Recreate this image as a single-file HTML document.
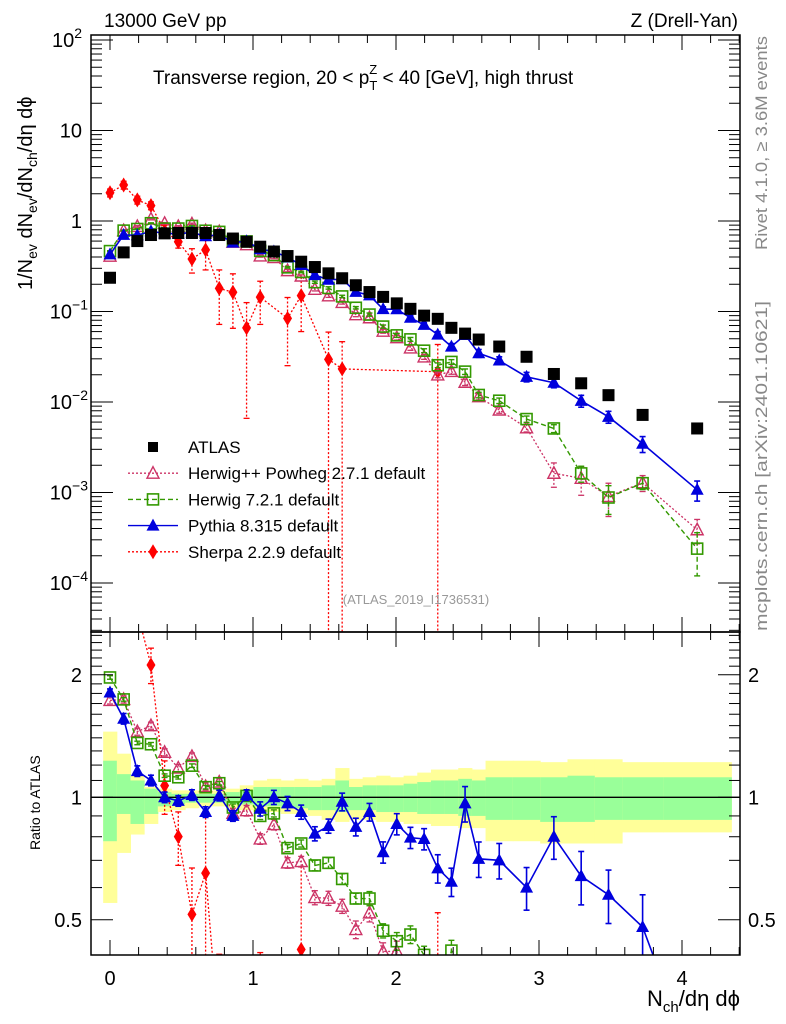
<!DOCTYPE html>
<html><head><meta charset="utf-8"><style>
html,body{margin:0;padding:0;background:#fff;overflow:hidden;width:786px;height:1024px;}
svg{display:block;font-family:"Liberation Sans",sans-serif;}
</style></head><body>
<svg id="chart" width="786" height="1024" viewBox="0 0 786 1024" xmlns="http://www.w3.org/2000/svg" overflow="hidden">
<rect x="0" y="0" width="786" height="1024" fill="#fff"/>
<g id="ratioBands"></g>
<g id="grid"></g>
<g id="series"></g>
<g id="axes"></g>
<text x="104" y="27" font-size="19">13000 GeV pp</text>
<text x="738" y="27" font-size="19" text-anchor="end">Z (Drell-Yan)</text>
<text x="153" y="84" font-size="19">Transverse region, 20 &lt; p<tspan font-size="13" dy="6">T</tspan><tspan font-size="13" dx="-8" dy="-16">Z</tspan><tspan dy="10"> &lt; 40 [GeV], high thrust</tspan></text>
<text transform="translate(32,290) rotate(-90)" font-size="20">1/N<tspan font-size="14" dy="5">ev</tspan><tspan dy="-5"> dN</tspan><tspan font-size="14" dy="5">ev</tspan><tspan dy="-5">/dN</tspan><tspan font-size="14" dy="5">ch</tspan><tspan dy="-5">/dη dϕ</tspan></text>
<text transform="translate(40,850) rotate(-90)" font-size="14">Ratio to ATLAS</text>
<text x="740" y="1006" font-size="22" text-anchor="end">N<tspan font-size="15" dy="6">ch</tspan><tspan dy="-6">/dη dϕ</tspan></text>
<text transform="translate(767,250) rotate(-90)" font-size="17" fill="#888" textLength="214" lengthAdjust="spacingAndGlyphs">Rivet 4.1.0, ≥ 3.6M events</text>
<text transform="translate(767,631) rotate(-90)" font-size="17" fill="#888" textLength="330" lengthAdjust="spacingAndGlyphs">mcplots.cern.ch [arXiv:2401.10621]</text>
<text x="416" y="604" font-size="13" fill="#999" text-anchor="middle">(ATLAS_2019_I1736531)</text>
<g id="legend"></g>
</svg>
<script>
// ---- data ----
const xCenters = [0,0.0955,0.191,0.2865,0.382,0.4775,0.573,0.6685,0.764,0.8595,0.955,1.0505,1.146,1.2415,1.337,1.4325,1.528,1.6235,1.719,1.8145,1.91,2.0055,2.101,2.1965,2.292,2.3875,2.483,2.5785,2.722,2.913,3.104,3.295,3.486,3.7245,4.106];
const binLo = [-0.0478,0.0478,0.1433,0.2388,0.3343,0.4298,0.5253,0.6208,0.7163,0.8118,0.9073,1.0028,1.0983,1.1938,1.2893,1.3848,1.4803,1.5758,1.6713,1.7668,1.8623,1.9578,2.0533,2.1488,2.2443,2.3398,2.4353,2.5308,2.6263,2.8173,3.0083,3.1993,3.3903,3.5813,3.8678];
const binHi = [0.0478,0.1433,0.2388,0.3343,0.4298,0.5253,0.6208,0.7163,0.8118,0.9073,1.0028,1.0983,1.1938,1.2893,1.3848,1.4803,1.5758,1.6713,1.7668,1.8623,1.9578,2.0533,2.1488,2.2443,2.3398,2.4353,2.5308,2.6263,2.8173,3.0083,3.1993,3.3903,3.5813,3.8678,4.3453];
const atlas = [0.236,0.45,0.60,0.70,0.73,0.737,0.737,0.737,0.70,0.64,0.59,0.52,0.46,0.41,0.355,0.31,0.264,0.233,0.195,0.164,0.145,0.123,0.107,0.090,0.083,0.066,0.057,0.049,0.041,0.0316,0.0204,0.0161,0.0119,0.0072,0.0051];
const yellowHi = [1.45,1.28,1.13,1.06,1.05,1.04,1.04,1.04,1.04,1.05,1.07,1.10,1.11,1.10,1.11,1.10,1.11,1.18,1.11,1.12,1.13,1.12,1.13,1.15,1.17,1.17,1.18,1.17,1.23,1.23,1.22,1.24,1.24,1.22,1.22];
const yellowLo = [0.55,0.73,0.81,0.86,0.92,0.93,0.94,0.95,0.95,0.94,0.93,0.92,0.92,0.91,0.91,0.90,0.88,0.87,0.88,0.88,0.87,0.87,0.86,0.86,0.85,0.85,0.84,0.84,0.78,0.78,0.77,0.77,0.77,0.82,0.82];
const greenHi = [1.23,1.14,1.10,1.05,1.03,1.02,1.02,1.02,1.02,1.03,1.04,1.06,1.06,1.06,1.06,1.06,1.07,1.10,1.06,1.07,1.07,1.07,1.08,1.09,1.10,1.10,1.11,1.10,1.12,1.12,1.12,1.13,1.12,1.12,1.12];
const greenLo = [0.78,0.91,0.86,0.91,0.95,0.96,0.97,0.97,0.97,0.96,0.96,0.95,0.95,0.94,0.94,0.93,0.93,0.92,0.93,0.93,0.92,0.92,0.92,0.91,0.91,0.91,0.90,0.90,0.88,0.88,0.87,0.87,0.88,0.88,0.88];
const herwigppRatio = [1.73,1.74,1.45,1.50,1.29,1.18,1.26,1.063,1.09,0.913,0.927,0.79,0.857,0.69,0.695,0.567,0.565,0.54,0.473,0.52,0.418,0.418,0.37,0.35,0.24,0.33,0.29,0.234,0.199,0.164,0.08,0.089,0.076,0.178,0.076];
const herwigppErr = [0.02,0.02,0.02,0.02,0.02,0.02,0.02,0.02,0.02,0.03,0.03,0.03,0.03,0.03,0.03,0.04,0.04,0.04,0.05,0.05,0.05,0.06,0.06,0.06,0.07,0.07,0.08,0.08,0.08,0.1,0.3,0.35,0.4,0.2,0.3];
const herwig7Ratio = [1.97,1.74,1.36,1.35,1.13,1.12,1.196,1.059,1.083,0.944,1.008,0.90,0.913,0.75,0.77,0.68,0.69,0.63,0.564,0.564,0.47,0.443,0.46,0.41,0.307,0.42,0.38,0.244,0.252,0.205,0.25,0.101,0.074,0.176,0.047];
const herwig7Err = [0.01,0.01,0.01,0.01,0.01,0.01,0.01,0.01,0.01,0.02,0.02,0.02,0.02,0.02,0.02,0.03,0.03,0.03,0.03,0.04,0.04,0.05,0.05,0.05,0.06,0.06,0.07,0.07,0.07,0.08,0.1,0.2,0.35,0.15,0.5];
const pythiaRatio = [1.81,1.56,1.16,1.10,1.0,0.98,1.013,0.92,1.01,0.90,1.013,0.937,1.0,0.966,0.92,0.814,0.85,0.975,0.846,0.92,0.733,0.86,0.796,0.79,0.669,0.62,0.966,0.706,0.70,0.60,0.80,0.64,0.576,0.48,0.21];
const pythiaErr = [0.02,0.03,0.03,0.03,0.03,0.03,0.03,0.03,0.03,0.03,0.03,0.04,0.04,0.04,0.04,0.04,0.04,0.05,0.05,0.05,0.06,0.06,0.06,0.06,0.08,0.08,0.1,0.1,0.1,0.12,0.12,0.15,0.15,0.2,0.25];
const sherpaVals = [2.05,2.50,1.71,1.48,0.78,0.59,0.38,0.48,0.18,0.163,0.066,0.144,null,0.084,0.15,null,0.0296,0.0232,null,null,null,null,null,null,0.0216,null,null,null,null,null,null,null,null,null,null];
const sherpaErr = [0.1,0.1,0.1,0.1,0.15,0.15,0.3,0.4,0.6,0.6,0.9,0.5,null,0.7,0.6,null,1.0,1.0,null,null,null,null,null,null,1.0,null,null,null,null,null,null,null,null,null,null];
const mainYTicks = ["10^2","10","1","10^-1","10^-2","10^-3","10^-4"];
const ratioTickLabels = ["0.5","1","2"];
const xTickLabels = ["0","1","2","3","4"];

// ---- geometry ----
const L=91,R=740,T=35,MB=632,B=955;
const X=v=>110+v*143;
const YM=v=>221-Math.log10(v)*90.5;
const YR=r=>797.3-Math.log2(r)*122.5;
const NS="http://www.w3.org/2000/svg";
function mk(tag,attrs,parent){const e=document.createElementNS(NS,tag);for(const k in attrs)e.setAttribute(k,attrs[k]);parent.appendChild(e);return e;}
const gB=document.getElementById('ratioBands'),gS=document.getElementById('series'),gA=document.getElementById('axes'),gL=document.getElementById('legend');
const clipD=document.createElementNS(NS,'defs');document.getElementById('chart').prepend(clipD);
mk('rect',{x:L,y:T,width:R-L,height:MB-T},mk('clipPath',{id:'cm'},clipD));
mk('rect',{x:L,y:MB,width:R-L,height:B-MB},mk('clipPath',{id:'cr'},clipD));
gB.setAttribute('clip-path','url(#cr)');

for(let i=0;i<xCenters.length;i++){
  const x0=X(binLo[i]),w=X(binHi[i])-X(binLo[i]);
  const y=mk('rect',{x:x0,y:YR(yellowHi[i]),width:w+0.5,height:YR(yellowLo[i])-YR(yellowHi[i]),fill:'#ffff99'},gB);
  
  
  const g=mk('rect',{x:x0,y:YR(greenHi[i]),width:w+0.5,height:YR(greenLo[i])-YR(greenHi[i]),fill:'#99ff99'},gB);
  
  
}
mk('line',{x1:L,x2:R,y1:YR(1),y2:YR(1),stroke:'#000','stroke-width':1.3},gB);

function marker(kind,x,y,parent,col){
  if(kind==='sq') return mk('rect',{x:x-6,y:y-6,width:12,height:12,fill:'#000'},parent);
  if(kind==='osq') return mk('rect',{x:x-5.5,y:y-5.5,width:11,height:11,fill:'none',stroke:col,'stroke-width':1.6},parent);
  if(kind==='otri') return mk('path',{d:`M${x},${y-6.5}L${x+6},${y+5}L${x-6},${y+5}Z`,fill:'none',stroke:col,'stroke-width':1.4},parent);
  if(kind==='tri') return mk('path',{d:`M${x},${y-7}L${x+6.5},${y+5}L${x-6.5},${y+5}Z`,fill:col},parent);
  if(kind==='dia') return mk('path',{d:`M${x},${y-7.5}L${x+4.5},${y}L${x},${y+7.5}L${x-4.5},${y}Z`,fill:col},parent);
}
function drawSeries(name,vals,errs,yf,kind,col,dash,width,clip){
  const g=mk('g',{'clip-path':`url(#${clip})`},gS);
  
  
  let pts=[];
  vals.forEach((v,i)=>{if(v!=null&&v>0)pts.push([X(xCenters[i]),yf(v),v,errs?errs[i]:0]);});
  if(dash!==null){
    mk('polyline',{points:pts.map(p=>p[0]+','+p[1]).join(' '),fill:'none',stroke:col,'stroke-width':width,'stroke-dasharray':dash},g);
  }
  pts.forEach(p=>{
    if(p[3]){const v=p[2],e=p[3]*v;
      const y1=yf(v+e),y2=v-e>0?Math.min(yf(v-e),1000):1000;
      mk('line',{x1:p[0],x2:p[0],y1:y1,y2:y2,stroke:col,'stroke-width':width,'stroke-dasharray':dash||''},g);
      mk('line',{x1:p[0]-3,x2:p[0]+3,y1:y1,y2:y1,stroke:col,'stroke-width':width},g);
      if(y2<1000)mk('line',{x1:p[0]-3,x2:p[0]+3,y1:y2,y2:y2,stroke:col,'stroke-width':width},g);}
    const m=marker(kind,p[0],p[1],g,col);
    
    
  });
}
const hppMain=herwigppRatio.map((r,i)=>r*atlas[i]);
const h7Main=herwig7Ratio.map((r,i)=>r*atlas[i]);
const pyMain=pythiaRatio.map((r,i)=>r*atlas[i]);
const shRatio=sherpaVals.map((v,i)=>v==null?null:v/atlas[i]);
drawSeries('sherpa-main',sherpaVals,sherpaErr,YM,'dia','#ff0000','2,2',1.3,'cm');
drawSeries('herwigpp-main',hppMain,herwigppErr,YM,'otri','#cc3366','2,2',1.3,'cm');
drawSeries('herwig7-main',h7Main,herwig7Err,YM,'osq','#339900','5,3',1.4,'cm');
drawSeries('pythia-main',pyMain,pythiaErr,YM,'tri','#0000dd','',1.6,'cm');
drawSeries('atlas-main',atlas,null,YM,'sq','#000',null,1,'cm');
drawSeries('sherpa-ratio',shRatio,sherpaErr,YR,'dia','#ff0000','2,2',1.3,'cr');
drawSeries('herwigpp-ratio',herwigppRatio,herwigppErr,YR,'otri','#cc3366','2,2',1.3,'cr');
drawSeries('herwig7-ratio',herwig7Ratio,herwig7Err,YR,'osq','#339900','5,3',1.4,'cr');
drawSeries('pythia-ratio',pythiaRatio,pythiaErr,YR,'tri','#0000dd','',1.6,'cr');

const f1=mk('rect',{x:L,y:T,width:R-L,height:MB-T,fill:'none',stroke:'#000','stroke-width':1.5},gA);


const f2=mk('rect',{x:L,y:MB,width:R-L,height:B-MB,fill:'none',stroke:'#000','stroke-width':1.5},gA);


const tk=(x1,y1,x2,y2)=>mk('line',{x1,y1,x2,y2,stroke:'#000','stroke-width':1},gA);
for(let k=-1;k<=22;k++){const v=k*0.2,x=X(v);if(x<L||x>R)continue;const maj=k%5===0;const len=maj?15:8;
  tk(x,T,x,T+len);tk(x,MB,x,MB-len);tk(x,MB,x,MB+len);tk(x,B,x,B-len);}
xTickLabels.forEach((s,i)=>{const t=mk('text',{x:X(+s),y:985,'font-size':20,'text-anchor':'middle'},gA);t.textContent=s;
  
  });
for(let d=-5;d<=2;d++){for(let m=1;m<=9;m++){const v=m*Math.pow(10,d),y=YM(v);if(y<T||y>MB)continue;const len=m===1?22:11;tk(L,y,L+len,y);tk(R,y,R-len,y);}}
mainYTicks.forEach((s,i)=>{const e=2-i;const y=YM(Math.pow(10,e));
  const t=mk('text',{x:82,y:y+7,'font-size':20,'text-anchor':'end'},gA);
  
  
  if(e===1)t.textContent='10';else if(e===0)t.textContent='1';
  else{t.textContent='10';const sp=document.createElementNS(NS,'tspan');sp.setAttribute('font-size',14);sp.setAttribute('dy',-9);sp.textContent=e>0?String(e):'−'+(-e);t.appendChild(sp);t.setAttribute('x',e>0?82:88);}
});
const rt=[0.4,0.5,0.6,0.7,0.8,0.9,1.0,1.1,1.2,1.3,1.4,1.5,1.6,1.7,1.8,1.9,2.0,2.1,2.2,2.3,2.4,2.5];
rt.forEach(r=>{const y=YR(r);if(y<MB||y>B)return;const maj=(r===0.5||r===1||r===2);const len=maj?22:11;tk(L,y,L+len,y);tk(R,y,R-len,y);});
ratioTickLabels.forEach(s=>{const y=YR(+s)+7;
  const a=mk('text',{x:82,y:y,'font-size':20,'text-anchor':'end'},gA);a.textContent=s;
  
  
  const b=mk('text',{x:748,y:y,'font-size':20},gA);b.textContent=s;
  
  });

const legNames=["ATLAS","Herwig++ Powheg 2.7.1 default","Herwig 7.2.1 default","Pythia 8.315 default","Sherpa 2.2.9 default"];
const legKinds=['sq','otri','osq','tri','dia'];
const legCols=['#000','#cc3366','#339900','#0000dd','#ff0000'];
const legDash=[null,'2,2','5,3','','2,2'];
legNames.forEach((n,i)=>{const y=447+i*26.2;
  const g=mk('g',{},gL);
  
  
  if(legDash[i]!==null)mk('line',{x1:128,x2:178,y1:y,y2:y,stroke:legCols[i],'stroke-width':1.4,'stroke-dasharray':legDash[i]},g);
  if(i===0)mk('rect',{x:148,y:y-5,width:10,height:10,fill:'#000'},g);else marker(legKinds[i],153,y,g,legCols[i]);
  const t=mk('text',{x:188,y:y+6,'font-size':17},g);t.textContent=n;});
</script>
</body></html>
